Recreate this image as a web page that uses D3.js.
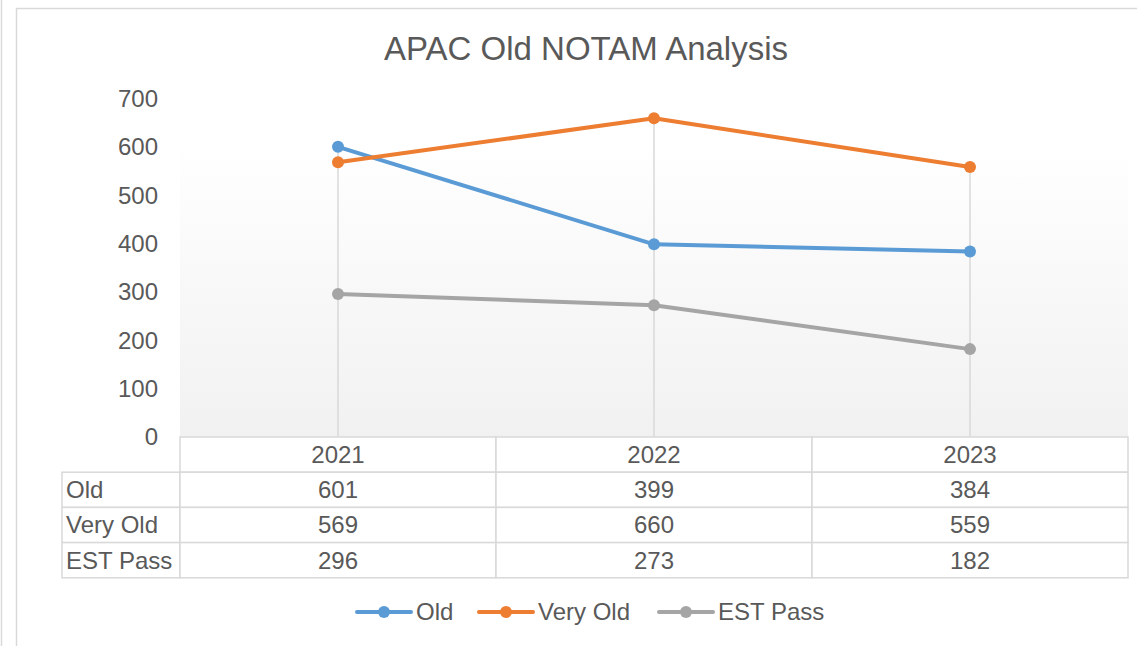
<!DOCTYPE html>
<html>
<head>
<meta charset="utf-8">
<script src="https://cdn.jsdelivr.net/npm/d3@7"></script>
<style>
  body { margin: 0; background: #fff; }
  text { font-family: Arial, "Liberation Sans", sans-serif; fill: #595959; }
</style>
</head>
<body>
<div id="chart"></div>
<script>
// chart data
var years = ["2021", "2022", "2023"];
var seriesNames = ["Old", "Very Old", "EST Pass"];
var oldVals = [601, 399, 384];
var veryOldVals = [569, 660, 559];
var estPassVals = [296, 273, 182];
var yTicks = [0, 100, 200, 300, 400, 500, 600, 700];
var colors = ["#5B9BD5", "#ED7D31", "#A5A5A5"];

var svgWidth = 1137;
var svgHeight = 646;

var series = [oldVals, veryOldVals, estPassVals].map(function(v, i) {
    return { name: seriesNames[i], values: v, color: colors[i] };
});

var svg = d3.select("#chart")
    .append("svg")
    .attr("width", svgWidth)
    .attr("height", svgHeight);

// outer frames
svg.append("line")
    .attr("x1", 1.5).attr("x2", 1.5)
    .attr("y1", 0).attr("y2", svgHeight)
    .attr("stroke", "#d9d9d9").attr("stroke-width", 1.5);
svg.append("rect")
    .attr("x", 16.5).attr("y", 8.5)
    .attr("width", svgWidth).attr("height", svgHeight)
    .attr("fill", "none")
    .attr("stroke", "#d9d9d9").attr("stroke-width", 1.5);

// scales
var plotLeft = 180, plotRight = 1128, plotTop = 142, plotBottom = 437;
var x = d3.scaleBand().domain(years).range([plotLeft, plotRight]);
var y = d3.scaleLinear().domain([0, 700]).range([plotBottom, plotBottom - 338]);
var cx = function(d) { return x(d) + x.bandwidth() / 2; };

// plot area gradient
var defs = svg.append("defs");
var grad = defs.append("linearGradient")
    .attr("id", "plotGrad")
    .attr("x1", 0).attr("y1", 0).attr("x2", 0).attr("y2", 1);
grad.append("stop").attr("offset", "0%").attr("stop-color", "#ffffff");
grad.append("stop").attr("offset", "100%").attr("stop-color", "#f1f1f1");

svg.append("rect")
    .attr("x", plotLeft).attr("y", plotTop)
    .attr("width", plotRight - plotLeft).attr("height", plotBottom - plotTop)
    .attr("fill", "url(#plotGrad)");

// drop lines from the highest point of each year
svg.selectAll(".drop")
    .data(years)
    .enter()
    .append("line")
    .attr("class", "drop")
    .attr("x1", cx).attr("x2", cx)
    .attr("y1", function(d, i) { return y(d3.max(series, function(s) { return s.values[i]; })); })
    .attr("y2", plotBottom)
    .attr("stroke", "#d9d9d9")
    .attr("stroke-width", 1.5);

// title
svg.append("text")
    .attr("x", 586)
    .attr("y", 60)
    .attr("text-anchor", "middle")
    .style("font-size", "33px")
    .text("APAC Old NOTAM Analysis");

// y axis
var leftAxis = d3.axisLeft(y).tickValues(yTicks).tickSize(0).tickPadding(0);
var yAxis = svg.append("g")
    .attr("transform", "translate(158, 0)")
    .call(leftAxis);
yAxis.select(".domain").remove();
yAxis.selectAll("text")
    .attr("fill", "#595959")
    .style("font-size", "24px")
    .style("font-family", "Arial, 'Liberation Sans', sans-serif");

// lines and markers
var lineGen = d3.line()
    .x(function(d, i) { return cx(years[i]); })
    .y(function(d) { return y(d); });

series.forEach(function(s) {
    svg.append("path")
        .datum(s.values)
        .attr("d", lineGen)
        .attr("fill", "none")
        .attr("stroke", s.color)
        .attr("stroke-width", 4)
        .attr("stroke-linejoin", "round");
    svg.selectAll(null)
        .data(s.values)
        .enter()
        .append("circle")
        .attr("cx", function(d, i) { return cx(years[i]); })
        .attr("cy", function(d) { return y(d); })
        .attr("r", 6)
        .attr("fill", s.color);
});

// data table
var rowH = 35.2;
var labelLeft = 62;
var tableBorder = "#d9d9d9";

// header row
var headerG = svg.append("g");
years.forEach(function(yr) {
    headerG.append("rect")
        .attr("x", x(yr)).attr("y", plotBottom)
        .attr("width", x.bandwidth()).attr("height", rowH)
        .attr("fill", "#fff")
        .attr("stroke", tableBorder).attr("stroke-width", 1.5);
    headerG.append("text")
        .attr("x", cx(yr))
        .attr("y", plotBottom + rowH / 2)
        .attr("dy", "0.35em")
        .attr("text-anchor", "middle")
        .style("font-size", "24px")
        .text(yr);
});

series.forEach(function(s, r) {
    var top = plotBottom + rowH * (r + 1);
    svg.append("rect")
        .attr("x", labelLeft).attr("y", top)
        .attr("width", plotLeft - labelLeft).attr("height", rowH)
        .attr("fill", "#fff")
        .attr("stroke", tableBorder).attr("stroke-width", 1.5);
    svg.append("text")
        .attr("x", labelLeft + 4)
        .attr("y", top + rowH / 2)
        .attr("dy", "0.35em")
        .style("font-size", "24px")
        .text(s.name);
    s.values.forEach(function(v, i) {
        svg.append("rect")
            .attr("x", x(years[i])).attr("y", top)
            .attr("width", x.bandwidth()).attr("height", rowH)
            .attr("fill", "#fff")
            .attr("stroke", tableBorder).attr("stroke-width", 1.5);
        svg.append("text")
            .attr("x", cx(years[i]))
            .attr("y", top + rowH / 2)
            .attr("dy", "0.35em")
            .attr("text-anchor", "middle")
            .style("font-size", "24px")
            .text(v);
    });
});

// legend
var legendItems = [
    { x: 357, tx: 416 },
    { x: 479, tx: 538 },
    { x: 659, tx: 718 }
];
var legendY = 612;
series.forEach(function(s, i) {
    var it = legendItems[i];
    svg.append("line")
        .attr("x1", it.x).attr("x2", it.x + 54)
        .attr("y1", legendY).attr("y2", legendY)
        .attr("stroke", s.color).attr("stroke-width", 4)
        .attr("stroke-linecap", "round");
    svg.append("circle")
        .attr("cx", it.x + 27).attr("cy", legendY)
        .attr("r", 6).attr("fill", s.color);
    svg.append("text")
        .attr("x", it.tx)
        .attr("y", legendY)
        .attr("dy", "0.35em")
        .style("font-size", "24px")
        .text(s.name);
});
</script>
</body>
</html>
